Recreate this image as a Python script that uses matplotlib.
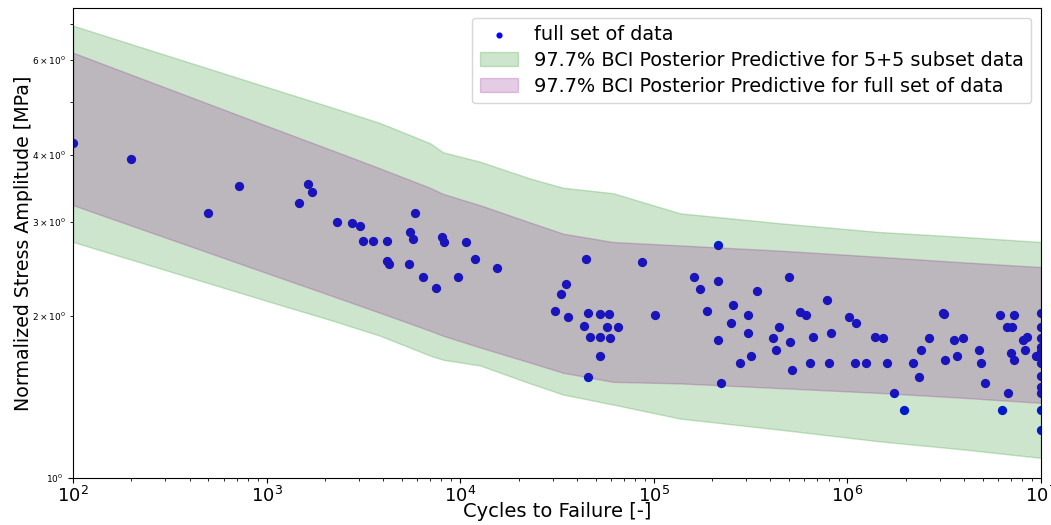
import numpy as np
import matplotlib
matplotlib.use('Agg')
from matplotlib import pyplot as plt

# test results: cycles to failure and normalized stress amplitude
cycles = [100, 200, 500, 720, 1470, 1640, 1720, 2310, 2760, 3040, 3150, 3550,
          4190, 4190, 4290, 5440, 5500, 5700, 5840, 6420, 7500, 8050, 8250,
          9750, 10700, 11900, 15500,
          30900, 33200, 35200, 36100, 43600, 44700, 45700, 45700, 46800,
          52700, 52700, 52700, 57300, 58700, 59400, 65300, 86900, 101000,
          1.61e5, 1.73e5, 1.88e5, 2.15e5, 2.15e5, 2.15e5, 2.22e5, 2.51e5,
          2.56e5, 2.79e5, 3.07e5, 3.07e5, 3.18e5, 3.41e5, 4.13e5, 4.28e5,
          4.44e5, 5.0e5, 5.05e5, 5.18e5, 5.69e5, 6.11e5, 6.41e5, 6.64e5,
          7.85e5, 8.04e5, 8.22e5, 1.02e6, 1.11e6, 1.09e6, 1.25e6, 1.39e6,
          1.53e6, 1.60e6, 1.74e6, 1.96e6, 2.18e6, 2.34e6, 2.40e6, 2.64e6,
          3.12e6, 3.15e6, 3.19e6, 3.56e6, 3.68e6, 3.95e6, 4.79e6, 4.90e6,
          5.14e6, 6.14e6, 6.29e6, 6.67e6, 6.76e6, 7.0e6, 7.08e6, 7.26e6,
          7.26e6, 8.07e6, 8.26e6, 8.47e6, 9.42e6,
          1e7, 1e7, 1e7, 1e7, 1e7, 1e7, 1e7, 1e7, 1e7, 1e7, 1e7, 1e7]
stress = [4.20, 3.92, 3.11, 3.50, 3.25, 3.53, 3.40, 2.99, 2.98, 2.94, 2.76, 2.76,
          2.76, 2.54, 2.50, 2.50, 2.87, 2.78, 3.11, 2.37, 2.26, 2.81, 2.75,
          2.37, 2.75, 2.56, 2.46,
          2.05, 2.20, 2.30, 1.99, 1.92, 2.56, 2.03, 1.54, 1.83,
          1.83, 1.69, 2.02, 1.91, 2.02, 1.82, 1.91, 2.52, 2.01,
          2.37, 2.25, 2.05, 2.71, 2.33, 1.81, 1.50, 1.94,
          2.10, 1.64, 2.01, 1.86, 1.69, 2.23, 1.82, 1.73,
          1.91, 2.37, 1.79, 1.59, 2.04, 2.01, 1.64, 1.83,
          2.14, 1.64, 1.86, 1.99, 1.94, 1.64, 1.64, 1.83,
          1.82, 1.64, 1.44, 1.34, 1.64, 1.54, 1.73, 1.82,
          2.03, 2.02, 1.66, 1.81, 1.69, 1.82, 1.73, 1.64,
          1.50, 2.01, 1.34, 1.91, 1.44, 1.71, 1.91, 2.01,
          1.66, 1.81, 1.73, 1.83, 1.69,
          2.03, 1.91, 1.82, 1.75, 1.72, 1.68, 1.64, 1.55, 1.48, 1.44, 1.34, 1.23]

# 97.7% posterior predictive bounds
band_cycles = [100, 1170, 2120, 3850, 6980, 8150, 12650, 22950, 34000, 61500,
               136500, 448500, 1.47e6, 4e6, 1e7]
subset_hi = [6.95, 5.25, 4.91, 4.58, 4.20, 4.04, 3.88, 3.61, 3.47, 3.39,
             3.11, 2.98, 2.87, 2.81, 2.75]
subset_lo = [2.75, 2.10, 1.97, 1.84, 1.69, 1.66, 1.62, 1.50, 1.43, 1.37,
             1.29, 1.23, 1.17, 1.13, 1.09]
full_hi = [6.19, 4.43, 4.09, 3.77, 3.47, 3.38, 3.22, 2.99, 2.85, 2.75,
           2.71, 2.65, 2.58, 2.52, 2.47]
full_lo = [3.22, 2.36, 2.19, 2.03, 1.88, 1.84, 1.75, 1.64, 1.57, 1.51,
           1.50, 1.47, 1.44, 1.41, 1.38]

fig = plt.figure(figsize=(10.51, 5.25), dpi=100)
ax = fig.add_axes([0.0695, 0.0895, 0.921, 0.8955])

ax.scatter(cycles, stress, color='b', s=32, label='full set of data')
ax.fill_between(band_cycles, subset_lo, subset_hi, color='g', alpha=0.2,
                label='97.7% BCI Posterior Predictive for 5+5 subset data')
ax.fill_between(band_cycles, full_lo, full_hi, color='purple', alpha=0.2,
                label='97.7% BCI Posterior Predictive for full set of data')

ax.set_xscale('log')
ax.set_yscale('log')
ax.set_xlim(1e2, 1e7)
ax.set_ylim(1, 7.5)
ax.set_xlabel('Cycles to Failure [-]', fontsize=14)
ax.set_ylabel('Normalized Stress Amplitude [MPa]', fontsize=13.7)
ax.xaxis.set_label_coords(0.5, -0.05)
ax.yaxis.set_label_coords(-0.041, 0.5)
ax.tick_params(axis='x', which='major', labelsize=13, pad=2)
ax.tick_params(axis='y', which='both', labelsize=6.5)
ax.legend(loc='upper right', fontsize=13.9, labelspacing=0.35, markerscale=0.6)

fig.savefig('out.png', dpi=100)
